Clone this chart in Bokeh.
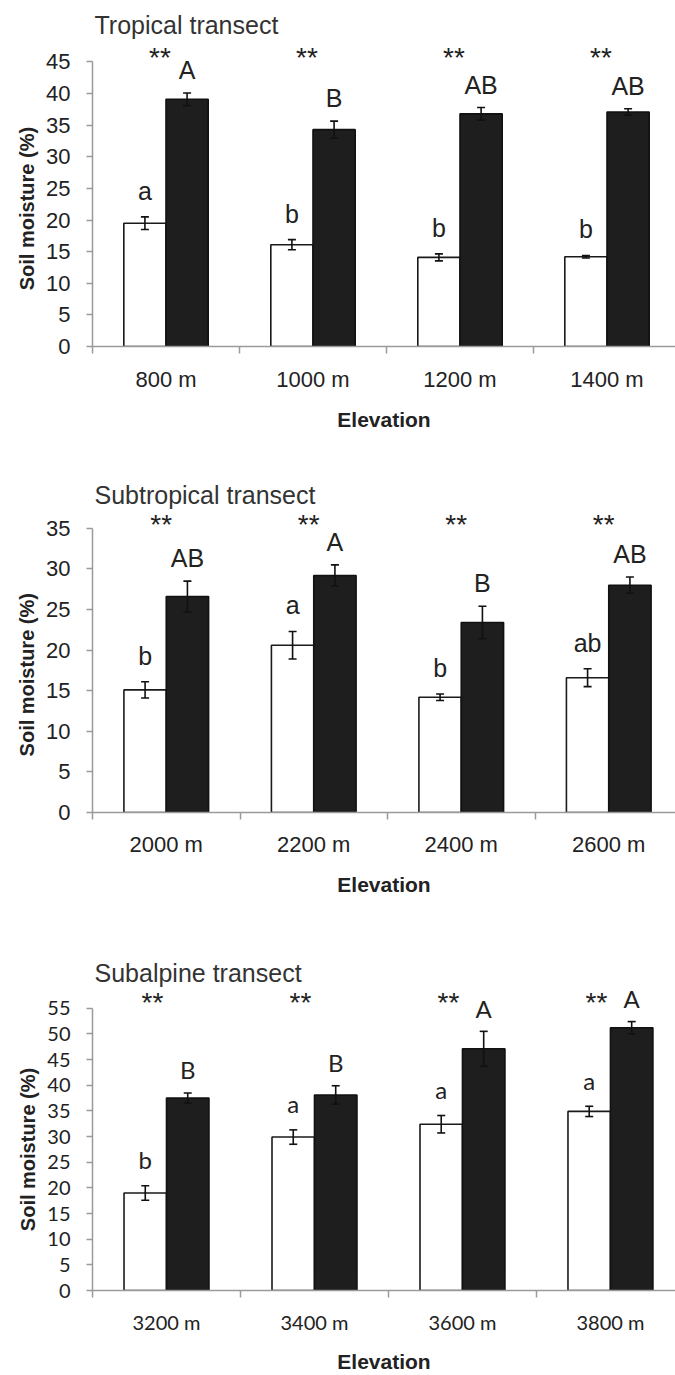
import numpy as np
from bokeh.plotting import figure
from bokeh.models import Range1d, FixedTicker, Whisker, TeeHead, ColumnDataSource, Title
from bokeh.layouts import column
from bokeh.core.properties import value
from bokeh.embed import file_html
from bokeh.resources import INLINE

# ---------------- data ----------------
tropical_cats = ["800 m", "1000 m", "1200 m", "1400 m"]
tropical_white = [19.5, 16.1, 14.1, 14.2]
tropical_white_err = [1.0, 0.8, 0.55, 0.2]
tropical_black = [39.1, 34.3, 36.8, 37.1]
tropical_black_err = [1.0, 1.35, 1.0, 0.5]
tropical_white_letters = ["a", "b", "b", "b"]
tropical_black_letters = ["A", "B", "AB", "AB"]
tropical_sig = ["**", "**", "**", "**"]
tropical_ymax = 45

subtropical_cats = ["2000 m", "2200 m", "2400 m", "2600 m"]
subtropical_white = [15.1, 20.6, 14.2, 16.6]
subtropical_white_err = [1.0, 1.7, 0.4, 1.1]
subtropical_black = [26.6, 29.2, 23.4, 28.0]
subtropical_black_err = [1.9, 1.3, 2.0, 1.0]
subtropical_white_letters = ["b", "a", "b", "ab"]
subtropical_black_letters = ["AB", "A", "B", "AB"]
subtropical_sig = ["**", "**", "**", "**"]
subtropical_ymax = 35

subalpine_cats = ["3200 m", "3400 m", "3600 m", "3800 m"]
subalpine_white = [19.0, 29.9, 32.4, 34.9]
subalpine_white_err = [1.4, 1.4, 1.7, 1.0]
subalpine_black = [37.5, 38.1, 47.1, 51.2]
subalpine_black_err = [1.0, 1.8, 3.4, 1.2]
subalpine_white_letters = ["b", "a", "a", "a"]
subalpine_black_letters = ["B", "B", "A", "A"]
subalpine_sig = ["**", "**", "**", "**"]
subalpine_ymax = 55

AXIS_COLOR = "#9a9a9a"
TEXT_COLOR = "#222222"
BAR_W = 0.287
YLABEL_LEN = 172  # approx. rendered length of the y-axis label, px


def panel(title, cats, white, werr, black, berr, wlet, blet, sig, ymax,
          height, top, left, axis_y, y_end, cat_px, tick_font, tick_size,
          letter_font, letter_size, sig_dx, sig_dy, xlab_standoff):
    n = len(cats)
    centers = np.arange(n) + 0.5
    x_end = (675 - left) / cat_px
    p = figure(width=675, height=height, output_backend="svg",
               toolbar_location=None,
               x_range=Range1d(0, x_end), y_range=Range1d(0, y_end),
               min_border_left=left, min_border_right=0,
               min_border_top=top, min_border_bottom=height - axis_y,
               title=title)
    p.outline_line_color = None
    p.xgrid.grid_line_color = None
    p.ygrid.grid_line_color = None
    p.background_fill_color = "white"
    p.border_fill_color = "white"

    p.title.text_font = "Liberation Sans"
    p.title.text_font_style = "normal"
    p.title.text_font_size = "25px"
    p.title.text_color = "#333333"
    p.title.align = "left"
    p.title.offset = 2
    p.title.standoff = 3

    wx = centers - BAR_W / 2
    bx = centers + BAR_W / 2
    white = np.array(white)
    black = np.array(black)
    werr = np.array(werr)
    berr = np.array(berr)

    p.vbar(x=wx, top=white, width=BAR_W, fill_color="white",
           line_color="#1a1a1a", line_width=1.6)
    p.vbar(x=bx, top=black, width=BAR_W, fill_color="#1e1e1e",
           line_color="#111111", line_width=1.6)

    for xs, v, e in ((wx, white, werr), (bx, black, berr)):
        src = ColumnDataSource(dict(x=xs, upper=v + e, lower=v - e))
        w = Whisker(source=src, base="x", upper="upper", lower="lower",
                    line_color="#111111", line_width=1.6, level="overlay",
                    upper_head=TeeHead(size=8, line_color="#111111", line_width=1.6),
                    lower_head=TeeHead(size=8, line_color="#111111", line_width=1.6))
        p.add_layout(w)

    # significance letters
    p.text(x=wx, y=white + werr, text=wlet, text_font=value(letter_font),
           text_font_size=letter_size, text_align="center",
           text_baseline="middle", y_offset=-26, text_color=TEXT_COLOR)
    p.text(x=bx, y=black + berr, text=blet, text_font=value(letter_font),
           text_font_size=letter_size, text_align="center",
           text_baseline="middle", y_offset=-23, text_color=TEXT_COLOR)
    # asterisks
    p.text(x=centers, y=[ymax] * n, text=sig, text_font=value("Liberation Sans"),
           text_font_size="28px", text_align="center", text_baseline="middle",
           x_offset=sig_dx, y_offset=sig_dy, text_color=TEXT_COLOR)

    # y axis
    ya = p.yaxis[0]
    ya.ticker = FixedTicker(ticks=list(range(0, ymax + 1, 5)))
    ya.bounds = (0, ymax)
    ya.axis_line_color = AXIS_COLOR
    ya.axis_line_width = 1.5
    ya.major_tick_line_color = AXIS_COLOR
    ya.major_tick_line_width = 1.5
    ya.major_tick_out = 6
    ya.major_tick_in = 0
    ya.minor_tick_line_color = None
    ya.major_label_standoff = 16
    ya.major_label_text_font = tick_font
    ya.major_label_text_font_size = tick_size
    ya.major_label_text_color = TEXT_COLOR

    # y-axis title, centred on the 0..ymax span of the axis
    frame_h = axis_y - top
    span_px = frame_h * ymax / y_end
    ylab = Title(text="Soil moisture (%)", align="left",
                 offset=span_px / 2 - YLABEL_LEN / 2, standoff=12,
                 text_font="Liberation Sans", text_font_style="bold",
                 text_font_size="20px", text_color=TEXT_COLOR)
    p.add_layout(ylab, "left")

    # x axis
    xa = p.xaxis[0]
    xa.ticker = FixedTicker(ticks=[float(c) for c in centers],
                            minor_ticks=[float(i) for i in range(n)])
    xa.major_label_overrides = {float(c): cats[i] for i, c in enumerate(centers)}
    xa.axis_line_color = AXIS_COLOR
    xa.axis_line_width = 1.5
    xa.major_tick_out = 0
    xa.major_tick_in = 0
    xa.major_tick_line_color = None
    xa.minor_tick_out = 7
    xa.minor_tick_in = 0
    xa.minor_tick_line_color = AXIS_COLOR
    xa.minor_tick_line_width = 1.5
    xa.major_label_standoff = xlab_standoff
    xa.major_label_text_font = tick_font
    xa.major_label_text_font_size = tick_size
    xa.major_label_text_color = TEXT_COLOR
    xa.axis_label = "Elevation"
    xa.axis_label_text_font = "Liberation Sans"
    xa.axis_label_text_font_style = "bold"
    xa.axis_label_text_font_size = "21px"
    xa.axis_label_text_color = TEXT_COLOR
    xa.axis_label_standoff = 13
    return p


p1 = panel("Tropical transect", tropical_cats, tropical_white, tropical_white_err,
           tropical_black, tropical_black_err, tropical_white_letters,
           tropical_black_letters, tropical_sig, tropical_ymax,
           height=445, top=40, left=92, axis_y=346, y_end=48.4, cat_px=147,
           tick_font="Liberation Sans", tick_size="22px",
           letter_font="Liberation Sans", letter_size="25px",
           sig_dx=-6, sig_dy=-4, xlab_standoff=13)

p2 = panel("Subtropical transect", subtropical_cats, subtropical_white,
           subtropical_white_err, subtropical_black, subtropical_black_err,
           subtropical_white_letters, subtropical_black_letters, subtropical_sig,
           subtropical_ymax,
           height=460, top=65, left=92, axis_y=367, y_end=37.2, cat_px=147.5,
           tick_font="Liberation Sans", tick_size="22px",
           letter_font="Liberation Sans", letter_size="25px",
           sig_dx=-5, sig_dy=-4, xlab_standoff=12)

p3 = panel("Subalpine transect", subalpine_cats, subalpine_white,
           subalpine_white_err, subalpine_black, subalpine_black_err,
           subalpine_white_letters, subalpine_black_letters, subalpine_sig,
           subalpine_ymax,
           height=470, top=83, left=88, axis_y=394, y_end=58.85, cat_px=149,
           tick_font="Lato", tick_size="20px",
           letter_font="Lato", letter_size="24px",
           sig_dx=-14, sig_dy=-6, xlab_standoff=12)

layout = column(p1, p2, p3, spacing=0)
open("out.html", "w").write(file_html(layout, INLINE))
